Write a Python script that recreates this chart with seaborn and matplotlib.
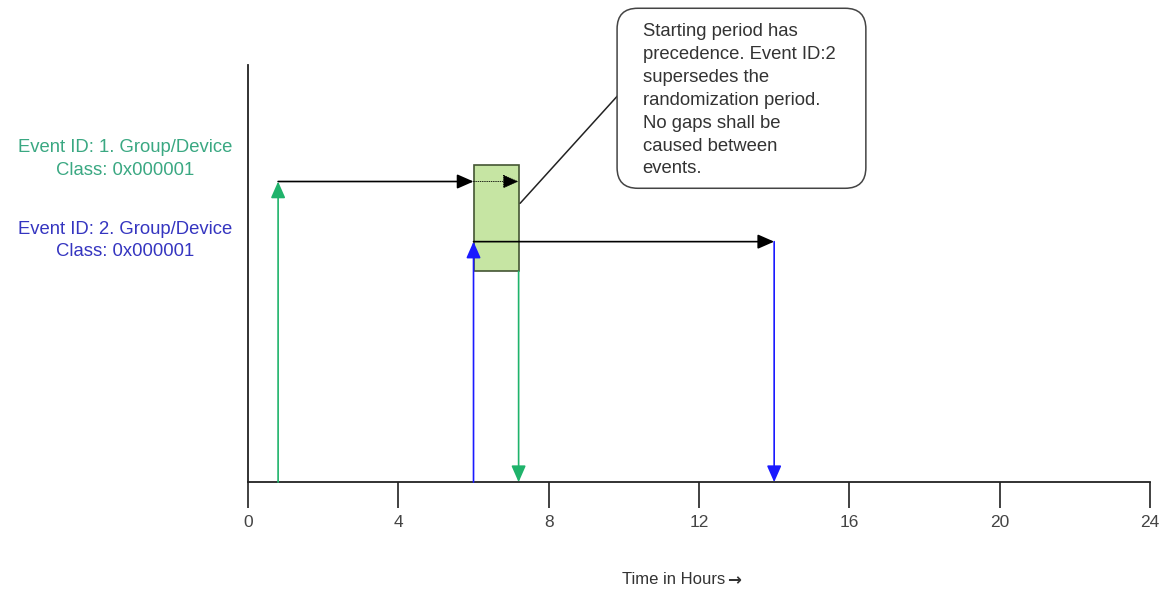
import matplotlib
matplotlib.use('Agg')
import matplotlib.pyplot as plt
import seaborn as sns
from matplotlib.patches import FancyBboxPatch, Rectangle

# данные схемы: время событий в часах и уровни стрелок
event_labels = ['Event ID: 1. Group/Device\nClass: 0x000001',
                'Event ID: 2. Group/Device\nClass: 0x000001']
event_start = [0.8, 6.0]
event_end = [7.2, 14.0]
event_level = [8.0, 6.4]
event_colors = ['#1fb36b', '#1a1aff']
label_colors = ['#3aa882', '#3535c0']
label_y = [8.6, 6.43]

window_start, window_end = 6.0, 7.2
window_low, window_high = 5.61, 8.44

x_ticks = [0, 4, 8, 12, 16, 20, 24]
axis_top = 11.1

note_text = ('Starting period has\nprecedence. Event ID:2\nsupersedes the\n'
             'randomization period.\nNo gaps shall be\ncaused between\nevents.')

sns.set_theme(style='white')
plt.rcParams['font.family'] = ['Liberation Sans', 'DejaVu Sans']

fig = plt.figure(figsize=(11.62, 5.90), dpi=100)
ax = fig.add_axes([0, 0, 1, 1])
ax.set_xlim(-6.6, 24.32)
ax.set_ylim(-2.87, 12.83)

# оси
ax.spines['top'].set_visible(False)
ax.spines['right'].set_visible(False)
ax.spines['left'].set_position(('data', 0))
ax.spines['bottom'].set_position(('data', 0))
ax.spines['left'].set_bounds(0, axis_top)
ax.spines['bottom'].set_bounds(0, 24)
for s in ['left', 'bottom']:
    ax.spines[s].set_color('#222222')
    ax.spines[s].set_linewidth(1.3)
ax.set_xticks(x_ticks)
ax.set_xticklabels([str(t) for t in x_ticks], fontsize=12.5, color='#444444')
ax.tick_params(axis='x', direction='out', length=19, width=1.3, color='#333333',
               pad=5, bottom=True)
ax.set_yticks([])
ax.text(9.95, -2.6, 'Time in Hours', ha='left', va='center', fontsize=12,
        color='#333333')
ax.text(12.75, -2.6, '\u2192', ha='left', va='center', fontsize=12,
        color='#333333', family='DejaVu Sans', fontweight='bold')


def arrow(x0, y0, x1, y1, color, lw=1.2, ls='-'):
    ax.annotate('', xy=(x1, y1), xytext=(x0, y0),
                arrowprops=dict(arrowstyle='-|>,head_length=0.5,head_width=0.22',
                                color=color, lw=lw, ls=ls, mutation_scale=20,
                                shrinkA=0, shrinkB=0))


# окно рандомизации
ax.add_patch(Rectangle((window_start, window_low), window_end - window_start,
                       window_high - window_low, facecolor='#c6e5a3',
                       edgecolor='#445533', lw=1.2, zorder=1))

# событие 1
arrow(event_start[0], 0, event_start[0], event_level[0], event_colors[0])
arrow(event_start[0], event_level[0], window_start, event_level[0], 'black')
arrow(window_start, event_level[0], window_end, event_level[0], 'black', lw=0.6, ls=':')
arrow(event_end[0], window_low, event_end[0], 0, event_colors[0])

# событие 2
arrow(event_start[1], 0, event_start[1], event_level[1], event_colors[1])
arrow(event_start[1], event_level[1], event_end[1], event_level[1], 'black')
arrow(event_end[1], event_level[1], event_end[1], 0, event_colors[1])

for lab, c, y in zip(event_labels, label_colors, label_y):
    ax.text(-3.28, y, lab, ha='center', va='center', fontsize=13.3, color=c,
            linespacing=1.4)

# выноска
ax.plot([7.24, 9.85], [7.42, 10.3], color='#222222', lw=1.1)
ax.add_patch(FancyBboxPatch((9.82, 7.82), 16.44 - 9.82, 12.61 - 7.82,
                            boxstyle='round,pad=0,rounding_size=0.55',
                            facecolor='white', edgecolor='#444444', lw=1.1, zorder=3))
ax.text(10.5, 10.16, note_text, ha='left', va='center', fontsize=13.3,
        color='#333333', linespacing=1.45, zorder=4)

fig.savefig('out.png', dpi=100)
